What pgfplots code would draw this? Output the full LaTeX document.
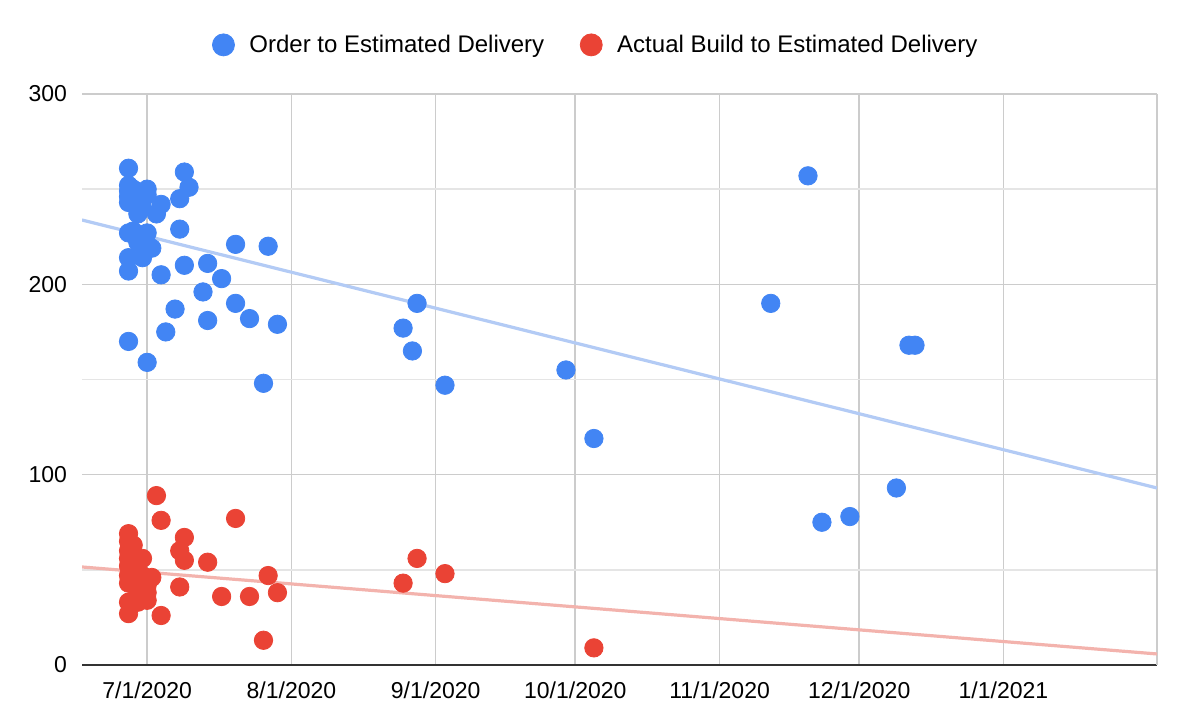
\documentclass[border=0pt]{standalone}
\usepackage{pgfplots}
\pgfplotsset{compat=1.18}
\usepackage{fontspec}
\setmainfont{Liberation Sans}
\definecolor{gblue}{HTML}{4285F4}
\definecolor{gred}{HTML}{EA4335}
\definecolor{tblue}{HTML}{B3CBF5}
\definecolor{tred}{HTML}{F3B3AD}
\begin{document}
\begin{tikzpicture}
\begin{axis}[
  name=ax,
  scale only axis,
  width=537.5pt, height=285.5pt,
  xmin=-14, xmax=217,
  ymin=0, ymax=300,
  xtick={0,31,62,92,123,153,184},
  xticklabels={7/1/2020,8/1/2020,9/1/2020,10/1/2020,11/1/2020,12/1/2020,1/1/2021},
  extra x ticks={217},
  extra x tick labels={},
  ytick={0,100,200,300},
  minor ytick={50,150,250},
  grid=both,
  major grid style={draw=black!20, line width=0.8pt},
  minor grid style={draw=black!10, line width=0.8pt},
  major tick length=0pt, minor tick length=0pt,
  axis x line*=bottom, axis y line*=left,
  x axis line style={draw=black!80, line width=1.3pt, -},
  y axis line style={draw=none},
  tick label style={font=\fontsize{11.5}{13}\selectfont, text=black},
  /pgf/number format/assume math mode=true,
  yticklabel style={xshift=-4pt},
  xticklabel style={yshift=-5pt},
  legend image code/.code={\draw[mark size=5.5pt] plot coordinates {(0pt,0pt)};},
  legend style={at={(0.479,1.086)}, anchor=center, draw=none, legend columns=2,
    font=\fontsize{12}{14}\selectfont,
    /tikz/every odd column/.append style={column sep=5.5pt},
    /tikz/every even column/.append style={column sep=16pt}},
  legend cell align=left,
]
\addplot[no marks, color=tblue, line width=1.6pt, forget plot] coordinates {(-14,233.8) (217,93)};
\addplot[no marks, color=tred, line width=1.6pt, forget plot] coordinates {(-14,51.5) (217,5.8)};
\addplot[only marks, mark=*, mark size=4.6pt, color=gblue, mark options={draw=gblue, fill=gblue}] coordinates {
(-4,261) (-4,252) (-4,249) (-4,246) (-4,243) (-4,227) (-4,214) (-4,207) (-4,170)
(-3,250) (-3,245) (-3,228)
(-2,248) (-2,243) (-2,237) (-2,222)
(-1,246) (-1,240) (-1,214) (-1,226)
(0,250) (0,247) (0,227) (0,219) (0,159)
(1,219) (2,237) (3,242) (3,205) (4,175) (6,187) (7,229) (7,245) (8,259) (9,251) (8,210)
(12,196) (13,211) (13,181) (16,203) (19,221) (19,190) (22,182) (25,148) (26,220) (28,179)
(55,177) (57,165) (58,190) (64,147) (90,155) (96,119)
(134,190) (142,257) (145,75) (151,78) (161,93) (163.7,168) (165,168)
};
\addlegendentry{Order to Estimated Delivery}
\addplot[only marks, mark=*, mark size=4.6pt, color=gred, mark options={draw=gred, fill=gred}] coordinates {
(-4,69) (-4,65) (-4,60) (-4,56) (-4,52) (-4,47) (-4,43) (-4,33) (-4,27)
(-3,63) (-3,50) (-2,55) (-2,47) (-2,39) (-2,33)
(-1,56) (-1,47) (0,42) (0,38) (0,34) (1,46)
(2,89) (3,76) (3,26) (7,60) (8,67) (8,55) (7,41) (13,54) (16,36) (19,77) (22,36) (25,13)
(26,47) (28,38) (55,43) (58,56) (64,48) (96,9)
};
\addlegendentry{Actual Build to Estimated Delivery}
\end{axis}
\pgfresetboundingbox
\path ([shift={(-41pt,-31.5pt)}]ax.south west) rectangle ([shift={(13.5pt,47pt)}]ax.north east);
\end{tikzpicture}
\end{document}
